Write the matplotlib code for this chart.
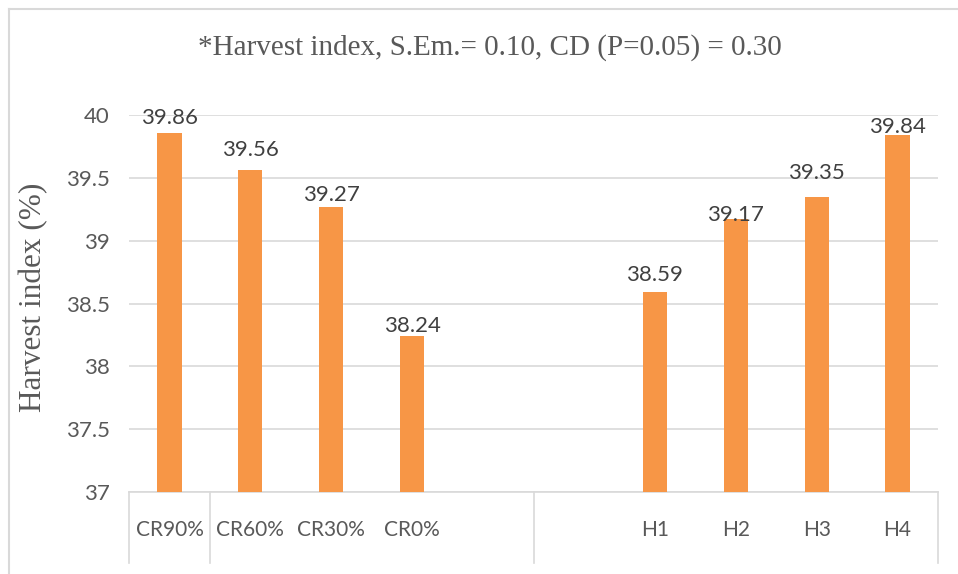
import numpy as np
import matplotlib
matplotlib.use("Agg")
import matplotlib.pyplot as plt
import matplotlib.transforms as mtransforms

# data
categories = ["CR90%", "CR60%", "CR30%", "CR0%", "", "", "H1", "H2", "H3", "H4"]
harvest_index = [39.86, 39.56, 39.27, 38.24, None, None, 38.59, 39.17, 39.35, 39.84]
y_ticks = [37, 37.5, 38, 38.5, 39, 39.5, 40]
title = "*Harvest index, S.Em.= 0.10, CD (P=0.05) = 0.30"
ylabel = "Harvest index (%)"

# label offsets above bar tops (px), as placed in the original
label_gap_px = [5, 10, 2, 0, 7, -6, 14, -2]

BAR = "#F79646"
GRID = "#d9d9d9"
TXT = "#595959"
SANS = ["Lato", "DejaVu Sans"]
SERIF = ["Liberation Serif", "DejaVu Serif"]

W, H = 958, 574
fig = plt.figure(figsize=(W / 100, H / 100), dpi=100)
ax = fig.add_axes([129 / W, 82 / H, (938 - 129) / W, (492 - 115) / H])

x = np.arange(len(categories))
xs = [i for i, v in zip(x, harvest_index) if v is not None]
vals = [v for v in harvest_index if v is not None]
bars = ax.bar(xs, vals, width=0.3, color=BAR, zorder=3)

for bar, v, gap in zip(bars, vals, label_gap_px):
    ax.annotate(f"{v:.2f}", (bar.get_x() + bar.get_width() / 2, v),
                xytext=(0, gap * 0.72), textcoords="offset points",
                ha="center", va="bottom", fontsize=16, color="#404040",
                family=SANS, zorder=4)

ax.set_xlim(-0.5, len(categories) - 0.5)
ax.set_ylim(37, 40)
ax.set_yticks(y_ticks)
ax.set_yticklabels([f"{t:g}" for t in y_ticks], family=SANS, fontsize=16, color=TXT)
ax.set_xticks(x)
ax.set_xticklabels(categories, family=SANS, fontsize=15, color=TXT)
ax.tick_params(axis="both", length=0)
ax.tick_params(axis="y", pad=14)
ax.tick_params(axis="x", pad=20)

ax.grid(axis="y", color=GRID, linewidth=1.2, zorder=0)
for s in ["top", "right", "left"]:
    ax.spines[s].set_visible(False)
ax.spines["bottom"].set_color(GRID)
ax.spines["bottom"].set_linewidth(1.2)

# group separator lines below the category axis
trans = mtransforms.blended_transform_factory(ax.transData, ax.transAxes)
for b in [-0.5, 0.5, 4.5, 9.5]:
    ax.plot([b, b], [0, -(563 - 492) / (492 - 115)], color=GRID, lw=1.2,
            transform=trans, clip_on=False)

fig.text(490 / W, 1 - 48 / H, title, ha="center", va="center",
         fontsize=21, family=SERIF, color=TXT)
fig.text(34 / W, 1 - 297 / H, ylabel, ha="center", va="center", rotation=90,
         fontsize=22.5, family=SERIF, color=TXT)

# chart frame (left and top edges visible in the reference)
fig.add_artist(plt.Line2D([8.5 / W, 8.5 / W], [0, 1 - 8.5 / H], color=GRID,
                          lw=1.5, transform=fig.transFigure))
fig.add_artist(plt.Line2D([8.5 / W, 1], [1 - 8.5 / H, 1 - 8.5 / H], color=GRID,
                          lw=1.5, transform=fig.transFigure))

fig.savefig("out.png", dpi=100)
